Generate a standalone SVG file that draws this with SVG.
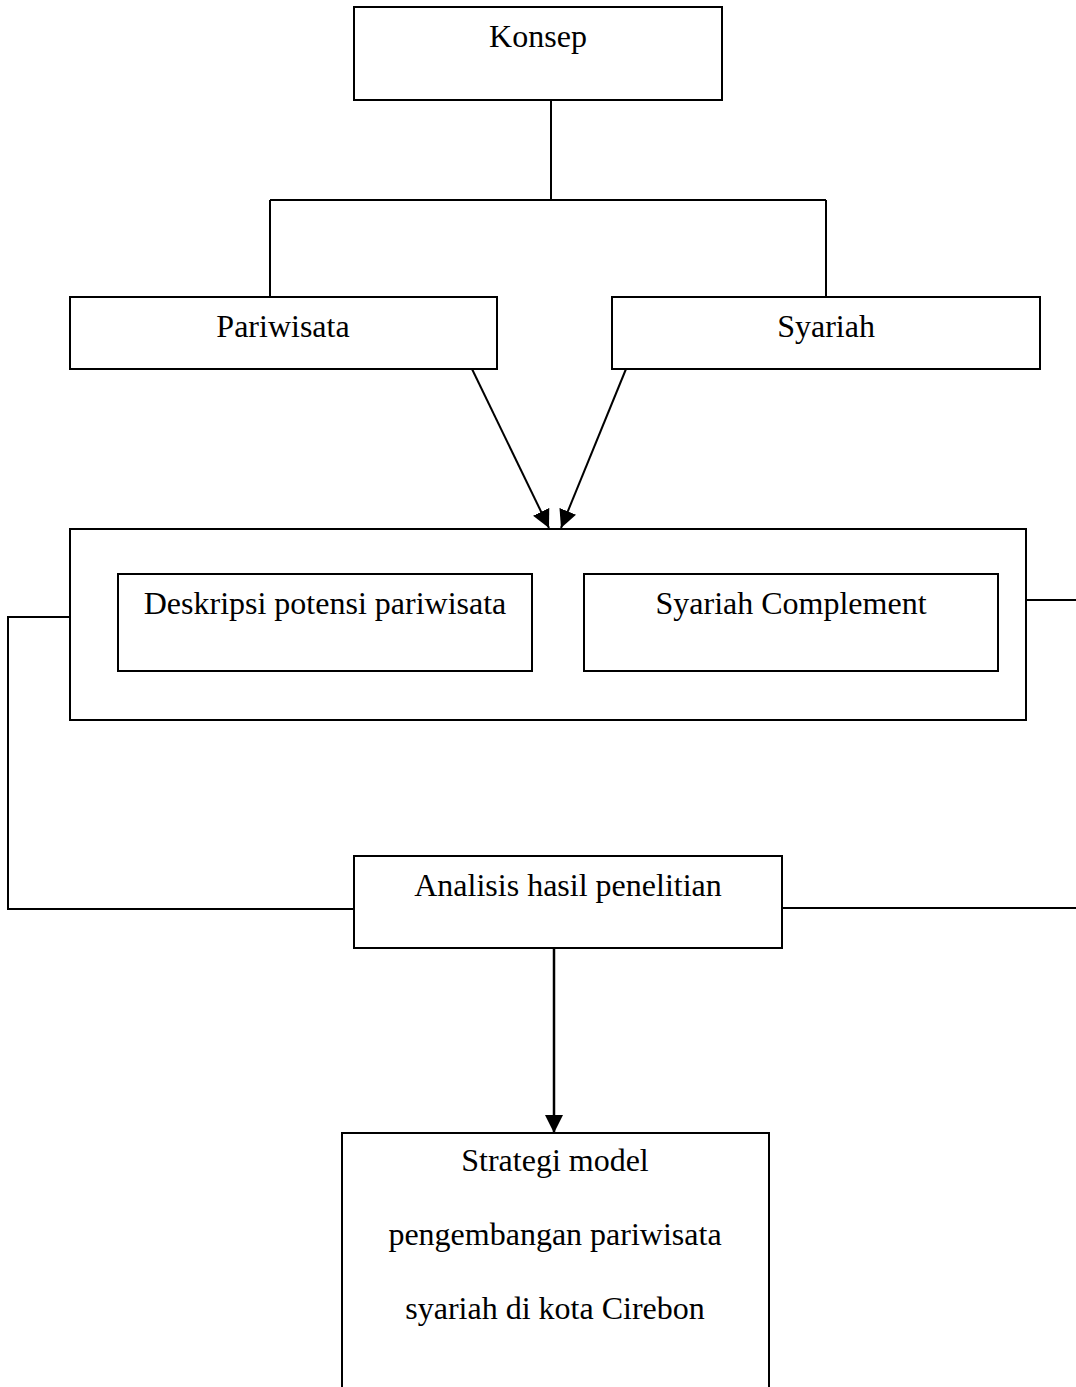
<svg xmlns="http://www.w3.org/2000/svg" width="1076" height="1387" viewBox="0 0 1076 1387">
<style>
.box{fill:#fff;stroke:#000;stroke-width:2}
.ln{fill:none;stroke:#000;stroke-width:2}
text{font-family:"Liberation Serif","Times New Roman",serif;font-size:32px;fill:#000;text-anchor:middle}
</style>
<defs>
<marker id="ah2" viewBox="0 0 10 10" refX="10" refY="5" markerWidth="18" markerHeight="18" markerUnits="userSpaceOnUse" orient="auto">
<path d="M0,0 L10,5 L0,10 z" fill="#000"/>
</marker>
</defs>
<rect width="1076" height="1387" fill="#fff"/>
<g id="connectors">
<path class="ln" d="M551,100 V200 M270,200 H826 M270,200 V297 M826,200 V297"/>
<line class="ln" x1="472" y1="369" x2="549" y2="528" marker-end="url(#ah2)"/>
<line class="ln" x1="626" y1="369" x2="561" y2="528" marker-end="url(#ah2)"/>
<path class="ln" d="M70,617 H8 V909 H354"/>
<path class="ln" d="M1026,600 H1076"/>
<path class="ln" d="M782,908 H1076"/>
<line class="ln" style="stroke-width:2.5" x1="554" y1="948" x2="554" y2="1133" marker-end="url(#ah2)"/>
</g>
<g id="konsep"><rect class="box" x="354" y="7" width="368" height="93"/><text x="538" y="47">Konsep</text></g>
<g id="pariwisata"><rect class="box" x="70" y="297" width="427" height="72"/><text x="283" y="337">Pariwisata</text></g>
<g id="syariah"><rect class="box" x="612" y="297" width="428" height="72"/><text x="826" y="337">Syariah</text></g>
<g id="group"><rect class="box" x="70" y="529" width="956" height="191"/></g>
<g id="deskripsi"><rect class="box" x="118" y="574" width="414" height="97"/><text x="325" y="614">Deskripsi potensi pariwisata</text></g>
<g id="complement"><rect class="box" x="584" y="574" width="414" height="97"/><text x="791" y="614">Syariah Complement</text></g>
<g id="analisis"><rect class="box" x="354" y="856" width="428" height="92"/><text x="568" y="896">Analisis hasil penelitian</text></g>
<g id="strategi"><path class="box" d="M342,1390 V1133 H769 V1390"/>
<text x="555" y="1171">Strategi model</text>
<text x="555" y="1245">pengembangan pariwisata</text>
<text x="555" y="1319">syariah di kota Cirebon</text></g>
</svg>
